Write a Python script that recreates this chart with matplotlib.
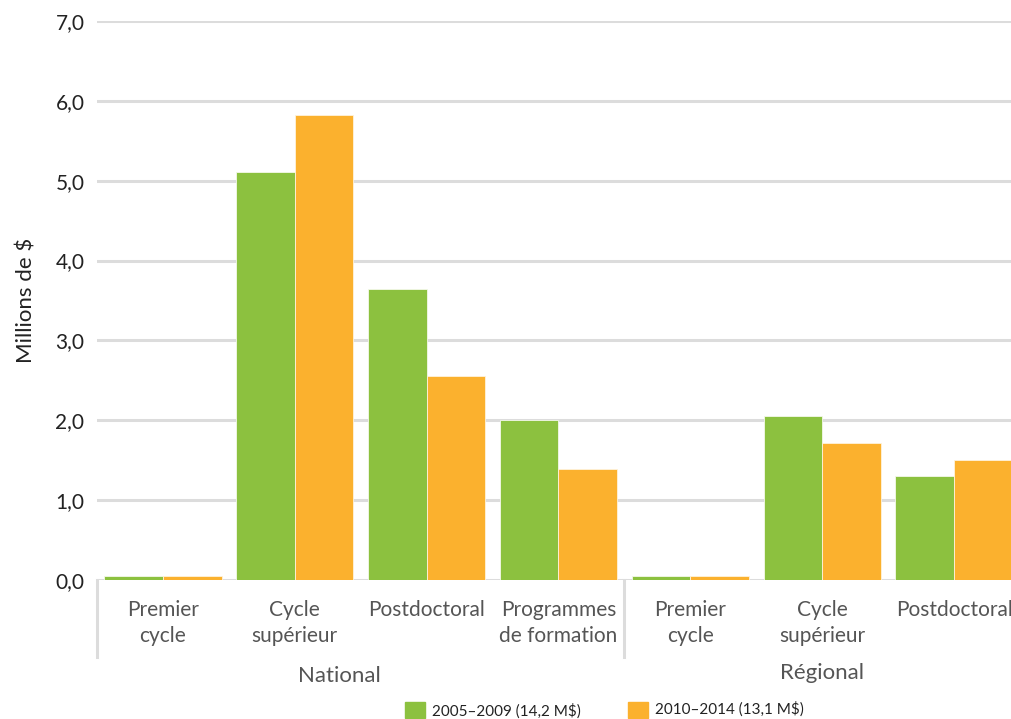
import matplotlib.pyplot as plt
import numpy as np

plt.rcParams['font.family'] = ['Lato', 'DejaVu Sans']

categories = ['Premier\ncycle', 'Cycle\nsupérieur', 'Postdoctoral', 'Programmes\nde formation',
              'Premier\ncycle', 'Cycle\nsupérieur', 'Postdoctoral']
groups = ['National', 'Régional']
p1_label = '2005–2009 (14,2 M$)'
p2_label = '2010–2014 (13,1 M$)'
p1_values = [0.05, 5.11, 3.64, 2.01, 0.05, 2.06, 1.30]
p2_values = [0.05, 5.82, 2.56, 1.39, 0.05, 1.72, 1.51]
yticks = [0, 1, 2, 3, 4, 5, 6, 7]

green = '#8cc13f'
orange = '#fbb12e'
grid = '#dcdcdc'

fig = plt.figure(figsize=(10.11, 7.19), dpi=100)
ax = fig.add_axes([0.0959, 0.193, 0.913, 0.778])

x = np.arange(len(categories))
w = 0.445
ax.bar(x - w / 2, p1_values, w, color=green, edgecolor='#f4f9ea', linewidth=0.6, zorder=3)
ax.bar(x + w / 2, p2_values, w, color=orange, edgecolor='#fff3dc', linewidth=0.6, zorder=3)

ax.set_xlim(-0.5, len(categories) - 0.5)
ax.set_ylim(0, 7)
ax.set_yticks(yticks)
ax.set_yticklabels([f'{v:.1f}'.replace('.', ',') for v in yticks], fontsize=15, color='#222222')
ax.yaxis.grid(True, color=grid, linewidth=2.2)
ax.set_axisbelow(True)
ax.tick_params(axis='y', length=0, pad=9)
for s in ax.spines.values():
    s.set_visible(False)

ax.set_xticks(x)
ax.set_xticklabels(categories, fontsize=15, color='#555555', linespacing=1.42)
ax.tick_params(axis='x', length=0, pad=14)
for lab in ax.get_xticklabels():
    lab.set_verticalalignment('top')

ax.set_ylabel('Millions de $', fontsize=16, color='#222222', labelpad=14)

# separators below the baseline for the two groups
trans = ax.get_xaxis_transform()
for xs in [-0.5, 3.5]:
    ax.plot([xs, xs], [0, -0.138], color=grid, linewidth=2.2, transform=trans, clip_on=False)

ax.text(1.34, -0.172, groups[0], transform=trans, ha='center', va='center', fontsize=16, color='#555555')
ax.text(5.0, -0.165, groups[1], transform=trans, ha='center', va='center', fontsize=16, color='#555555')

# legend squares and labels
fig.patches.append(plt.Rectangle((405 / 1011, 1 - 718 / 719), 20 / 1011, 16 / 719,
                                 transform=fig.transFigure, color=green))
fig.text(432 / 1011, 1 - 711 / 719, p1_label, fontsize=11, color='#222222', va='center')
fig.patches.append(plt.Rectangle((628 / 1011, 1 - 718 / 719), 20 / 1011, 16 / 719,
                                 transform=fig.transFigure, color=orange))
fig.text(655 / 1011, 1 - 709 / 719, p2_label, fontsize=11, color='#222222', va='center')

fig.savefig('out.png', dpi=100)
